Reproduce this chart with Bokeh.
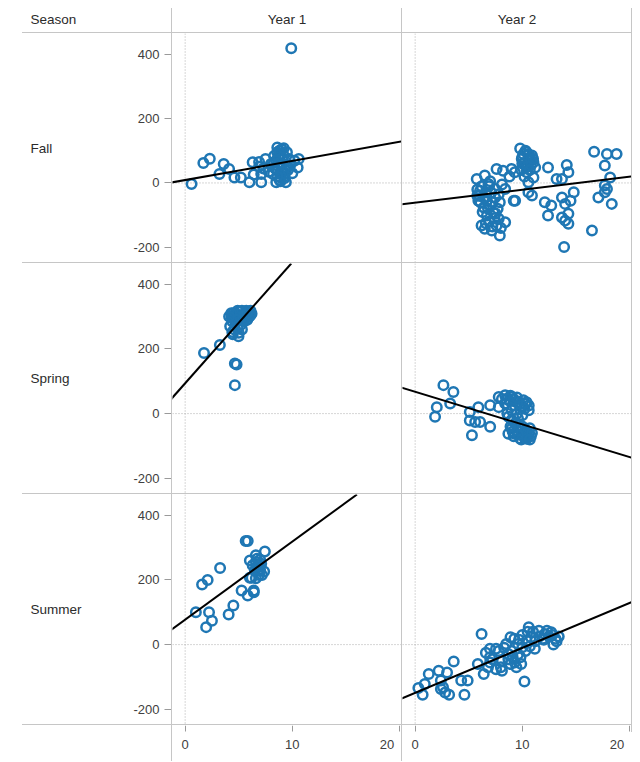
from bokeh.plotting import figure
from bokeh.models import Range1d, LinearAxis, FixedTicker, Span, Slope, Spacer
from bokeh.layouts import row, column
from bokeh.embed import file_html
from bokeh.resources import INLINE
from bokeh.core.properties import value

# ---------------- data ----------------
seasons = ["Fall", "Spring", "Summer"]
years = ["Year 1", "Year 2"]
row_header = "Season"
x_ticks = [0, 10, 20]
x_tick_labels = ["0", "10", "20"]
y_ticks = [-200, 0, 200, 400]
y_tick_labels = ["-200", "0", "200", "400"]

fall_y1_x = [0.6, 1.7, 2.3, 3.2, 3.6, 4.1, 4.6, 5.2, 6.0, 6.3, 6.4, 6.9, 7.1, 7.1, 7.5, 8.0,
             8.2, 8.3, 8.3, 8.5, 8.6, 8.6, 8.6, 8.9, 8.9, 9.0, 9.1, 9.4, 9.4, 9.5, 9.7, 9.9,
             10.2, 10.5, 10.6, 9.2, 8.8, 9.0, 9.3, 8.7,
             8.4, 8.7, 8.8, 9.0, 9.2, 9.3, 9.5, 9.1, 8.5, 9.6, 8.9, 9.2, 8.6, 9.8, 10.0,
             7.8, 6.9, 7.3]
fall_y1_y = [-3, 62, 75, 28, 59, 43, 17, 17, 2, 64, 26, 50, 2, 28, 74, 59,
             28, 64, 84, 2, 110, 38, 95, 17, 90, 105, 75, 2, 38, 55, 74, 418,
             69, 48, 74, 20, 10, 45, 30, 60,
             45, 80, 100, 60, 85, 15, 95, 35, 70, 40, 5, 108, 20, 55, 30,
             35, 65, 45]

fall_y2_x = [9.8, 10.4, 10.9, 9.95, 10.57, 11.04, 10.3, 11.2, 10.4, 11.04, 10.57, 10.57, 10.9,
             9.33, 12.4, 13.2, 13.7, 14.15, 14.3, 12.1, 12.7, 13.7, 14.0, 14.8, 14.5, 12.4,
             13.7, 14.3, 14.3, 14.0, 16.5, 13.9, 16.7, 17.9, 18.8, 17.7, 18.2, 17.9, 17.7,
             17.1, 18.35, 17.7, 5.75, 6.5, 7.6, 8.2, 9.0, 9.3, 6.84, 6.06, 7.46, 8.4, 5.9,
             6.7, 7.46, 7.9, 7.0, 6.4, 7.3, 6.7, 7.8, 8.4, 6.5, 7.15, 7.9, 7.6, 6.2, 9.2,
             10.0, 10.7, 10.2, 10.8, 6.0, 6.6, 7.2, 6.9, 7.4, 6.3, 7.7, 8.0, 6.2, 8.8, 7.0,
             10.1, 10.6, 10.3, 10.8, 10.0, 10.5, 11.0, 9.9, 10.7, 10.2,
             5.8, 6.1, 6.4, 6.8, 7.1, 7.5, 6.6, 7.2, 6.9, 7.8, 8.1, 5.8]
fall_y2_y = [107, 95, 85, 74, 69, 64, 54, 48, 33, 17, 2, -29, -39,
             -55, 48, 12, 12, 56, 33, -60, -70, -45, -65, -29, -55, -101,
             -107, -96, -127, -117, -148, -199, 97, 90, 90, 54, 17, -19, -29,
             -45, -65, -8, 12, 23, 43, 38, 43, 33, -3, -24, -19, -19, -55,
             -55, -45, -60, -70, -76, -91, -101, -111, -122, -142, -148, -163, -132, -132, -55,
             80, 78, 62, 55, -40, -30, -60, -120, -110, -90, -80, -140, -10, 20, 5,
             90, 88, 100, 70, 60, 50, 75, 40, 40, 20,
             -20, -60, -45, -80, -30, -95, -125, -135, -10, -35, -5, -40]

spring_y1_x = [1.76, 3.24, 4.64, 4.8, 4.64, 4.98, 4.4, 5.56, 5.75, 6.2, 4.32, 4.5, 4.8, 5.0,
               5.2, 5.4, 5.6, 5.9, 6.0, 5.3, 4.7, 5.1, 4.4, 5.8, 4.9, 6.1, 5.5, 4.6, 5.7,
               4.2, 4.5, 4.7, 4.9, 5.1, 5.3, 5.5, 5.7, 5.9, 6.1, 4.3, 4.6, 5.0, 5.4, 5.8,
               4.8, 4.1, 4.45]
spring_y1_y = [187, 212, 155, 152, 88, 239, 252, 294, 309, 309, 299, 310, 305, 290,
               275, 300, 312, 315, 300, 260, 280, 315, 285, 290, 265, 318, 285, 300, 305,
               270, 295, 310, 318, 300, 318, 305, 318, 300, 305, 310, 260, 250, 290, 310,
               290, 300, 245]

spring_y2_x = [2.64, 3.57, 2.02, 1.86, 3.27, 5.1, 5.9, 5.1, 5.6, 6.06, 5.3, 7.0, 7.0, 7.8,
               8.4, 9.0, 7.8, 8.4, 9.0, 9.6, 9.9, 9.5, 8.7, 10.1, 9.0, 9.3, 9.8, 10.1, 10.4,
               9.8, 10.5, 9.7, 8.7, 8.8, 9.3, 10.3, 10.6, 8.1, 10.0, 9.2, 10.2, 10.6, 9.5,
               8.5, 8.9, 9.2, 9.5, 9.8, 10.2, 10.4, 10.6, 8.6, 9.0, 9.4, 9.6, 10.0, 10.3,
               10.7, 10.8, 9.9, 10.4, 9.6, 9.1, 8.9, 10.9, 10.7]
spring_y2_y = [88, 67, 20, -10, 31, 5, 20, -21, -26, -26, -67, -41, 26, 51,
               57, 51, 20, 31, 10, 36, 20, 0, -10, 41, -46, -62, -46, -67, -57,
               -77, -72, -36, -62, 40, 25, 30, 25, 45, -5, -70, -75, -62, -52,
               45, 55, 45, 50, 30, 15, 35, 10, 0, -20, -30, -15, -40, -50,
               -45, -70, -80, -78, -65, -55, -40, -60, -80]

summer_y1_x = [1.0, 1.58, 2.1, 3.26, 2.23, 1.96, 2.5, 4.06, 4.5, 5.27, 5.84, 5.65, 6.04, 5.84,
               6.41, 6.2, 6.6, 6.8, 7.17, 7.44, 7.37, 6.6, 6.9, 6.04, 6.4, 6.7, 7.0,
               6.5, 6.7, 6.9, 7.1, 6.3, 7.0, 6.6]
summer_y1_y = [100, 186, 200, 237, 100, 54, 74, 93, 121, 167, 320, 320, 207, 152,
               162, 207, 255, 229, 215, 288, 226, 276, 245, 260, 167, 240, 262,
               230, 265, 215, 250, 245, 230, 205]

summer_y2_x = [0.3, 0.7, 0.9, 1.27, 2.2, 2.4, 2.6, 2.8, 3.17, 2.98, 3.6, 4.3, 4.9, 4.6, 2.4,
               6.2, 5.85, 6.4, 6.98, 7.55, 6.98, 6.8, 7.55, 8.1, 8.7, 8.9, 9.26, 8.9, 9.45,
               9.83, 10.0, 9.6, 10.2, 10.6, 10.8, 11.17, 11.55, 12.1, 12.3, 12.7, 12.9, 13.1,
               11.9, 10.4, 8.5, 8.1, 9.1,
               8.3, 8.7, 9.0, 9.3, 9.6, 9.9, 10.3, 10.7, 11.2, 11.6, 12.0, 12.5, 12.8, 13.2,
               13.4, 7.8, 7.2, 8.0, 9.7, 10.0, 10.5, 11.0, 7.0, 6.6]
summer_y2_y = [-134, -155, -122, -91, -81, -111, -132, -148, -155, -86, -52, -111, -111, -155, -137,
               33, -60, -91, -13, -13, -39, -70, -76, -50, -29, 23, 18, -60, -70,
               -39, -8, 2, -114, 54, 23, -13, 43, 33, 43, 38, 0, 18,
               18, 12, 2, -81, -39,
               -10, -45, -20, -55, -30, -60, -20, -5, 10, 25, 15, 25, 30, 10,
               25, -20, -45, -70, 15, 30, 40, 40, -55, -25]

points_x = [[fall_y1_x, fall_y2_x], [spring_y1_x, spring_y2_x], [summer_y1_x, summer_y2_x]]
points_y = [[fall_y1_y, fall_y2_y], [spring_y1_y, spring_y2_y], [summer_y1_y, summer_y2_y]]

# linear trend lines: gradient and intercept per pane
trend_gradient = [[5.93, 4.05], [37.4, -10.1], [24.13, 13.88]]
trend_intercept = [[9.0, -61.5], [93.7, 67.5], [77.1, -149.0]]

# ---------------- style ----------------
LINE = "#c6c6c6"
MARK = "#1f77b4"
FONT = "Liberation Sans"
TXT = "#2b2b2b"
TICK_TXT = "#404040"

XR = Range1d(-1.18, 20.19)
YR = Range1d(-247, 464)

LAB_W, PANE_W = 163, 229
HEAD_H, AXIS_H = 24, 36
ROW_H = [229, 230, 230]


def base_fig(w, h, xr, yr):
    p = figure(width=w, height=h, x_range=xr, y_range=yr, output_backend="svg",
               toolbar_location=None, min_border=0, title=None,
               x_axis_location=None, y_axis_location=None)
    p.xgrid.visible = False
    p.ygrid.visible = False
    p.outline_line_color = None
    p.background_fill_color = "white"
    p.border_fill_color = "white"
    return p


def vline(h):
    return Spacer(width=1, height=h, styles={"background-color": LINE})


def hline():
    return row(Spacer(width=14, height=1),
               Spacer(width=610, height=1, styles={"background-color": LINE}))


def head_fig(w, text, align, x):
    p = base_fig(w, HEAD_H, Range1d(0, w), Range1d(0, HEAD_H))
    p.text(x=[x], y=[13.5], text=[text], text_align=align, text_baseline="middle",
           text_font=value(FONT), text_font_size="13.5px", text_color=TXT)
    return p


# header row
hdr = row(head_fig(LAB_W, row_header, "left", 22), vline(HEAD_H),
          head_fig(PANE_W, years[0], "center", PANE_W / 2), vline(HEAD_H),
          head_fig(PANE_W, years[1], "center", PANE_W / 2), vline(HEAD_H))

rows = [hdr, hline()]
for i, season in enumerate(seasons):
    h = ROW_H[i]
    lab = base_fig(LAB_W, h, Range1d(0, LAB_W), YR)
    ya = LinearAxis(fixed_location=LAB_W, ticker=FixedTicker(ticks=y_ticks),
                    major_label_overrides=dict(zip(y_ticks, y_tick_labels)))
    ya.axis_line_color = None
    ya.major_tick_line_color = "#9a9a9a"
    ya.major_tick_in = 0
    ya.major_tick_out = 7
    ya.minor_tick_line_color = None
    ya.major_label_standoff = 5
    ya.major_label_text_font = FONT
    ya.major_label_text_font_size = "13px"
    ya.major_label_text_color = TICK_TXT
    lab.add_layout(ya, "left")
    lab.text(x=[22], y=[(YR.start + YR.end) / 2], text=[season], text_align="left",
             text_baseline="middle", text_font=value(FONT), text_font_size="13.5px",
             text_color=TXT)
    cells = [lab, vline(h)]
    for j in range(2):
        p = base_fig(PANE_W, h, XR, YR)
        for dim in ("height", "width"):
            p.add_layout(Span(location=0, dimension=dim, line_color="#adadad",
                              line_width=1, line_dash="1 2", level="underlay"))
        p.scatter(points_x[i][j], points_y[i][j], marker="circle", size=9.5,
                  fill_color=None, line_color=MARK, line_width=2.5)
        p.add_layout(Slope(gradient=trend_gradient[i][j], y_intercept=trend_intercept[i][j],
                           line_color="black", line_width=2))
        cells += [p, vline(h)]
    rows += [row(*cells), hline()]


def axis_fig():
    p = base_fig(PANE_W, AXIS_H, XR, Range1d(0, AXIS_H))
    labels = dict(zip(x_ticks, x_tick_labels))
    labels[x_ticks[-1]] = x_tick_labels[-1] + "\u00a0" * 2
    xa = LinearAxis(fixed_location=AXIS_H, ticker=FixedTicker(ticks=x_ticks),
                    major_label_overrides=labels)
    xa.axis_line_color = None
    xa.major_tick_line_color = "#9a9a9a"
    xa.major_tick_in = 0
    xa.major_tick_out = 6
    xa.minor_tick_line_color = None
    xa.major_label_standoff = 5
    xa.major_label_text_font = FONT
    xa.major_label_text_font_size = "13px"
    xa.major_label_text_color = TICK_TXT
    p.add_layout(xa, "below")
    return p


axis_row = row(Spacer(width=LAB_W, height=AXIS_H), vline(AXIS_H), axis_fig(), vline(AXIS_H),
               axis_fig(), column(vline(7), Spacer(width=1, height=AXIS_H - 7)))
rows.append(axis_row)

layout = column(*rows, margin=(8, 0, 0, 8))
open("out.html", "w").write(file_html(layout, INLINE))
